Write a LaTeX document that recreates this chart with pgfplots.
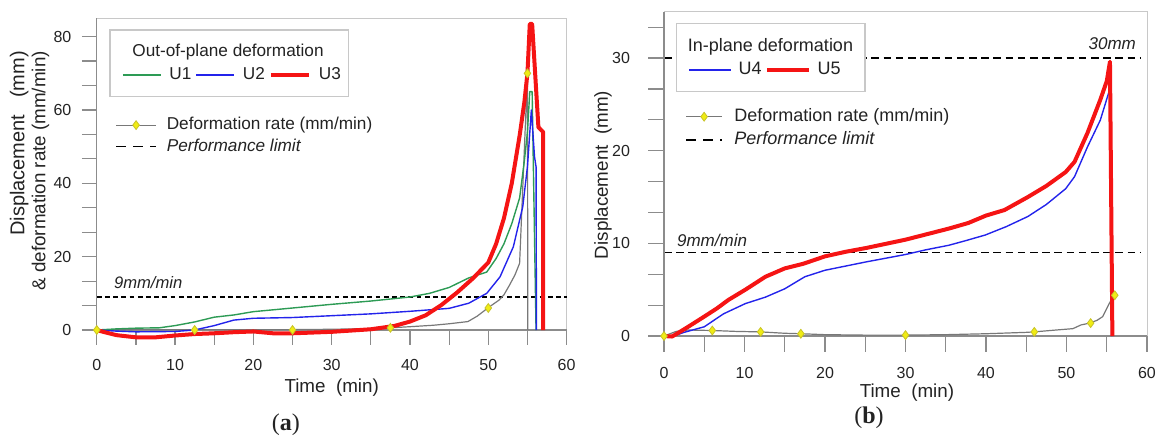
\documentclass[border=0pt]{standalone}
\usepackage{pgfplots}
\pgfplotsset{compat=1.18}
\usepackage{fontspec}
\setmainfont{Liberation Sans}
\newfontfamily\seriffont{Liberation Serif}
\definecolor{cgreen}{RGB}{45,155,85}
\definecolor{cblue}{RGB}{35,35,235}
\definecolor{cred}{RGB}{245,20,20}
\definecolor{cgray}{RGB}{120,120,120}
\definecolor{cyel}{RGB}{240,236,20}
\definecolor{cyeld}{RGB}{200,195,40}
\definecolor{cframe}{RGB}{200,200,200}
\definecolor{caxis}{RGB}{140,140,140}
\definecolor{ctext}{RGB}{35,35,35}

\pgfplotsset{
  panel/.style={
    scale only axis, anchor=south west,
    xmin=0, xmax=60,
    xtick={0,5,...,60}, xticklabels={0,,10,,20,,30,,40,,50,,60},
    tick pos=left,
    xtick align=inside, ytick align=outside,
    axis line style={cframe, line width=0.5pt},
    tick style={draw=caxis, line width=0.6pt},
    ticklabel style={font=\fontsize{8}{9.6}\selectfont, text=ctext},
    label style={font=\fontsize{9.4}{10.5}\selectfont, text=ctext},
    clip=false,
  },
  dmark/.style={only marks, mark=diamond*, mark size=2.2pt,
    mark options={fill=cyel, draw=cyeld, line width=0.4pt, solid}},
}

\begin{document}
\begin{tikzpicture}
\path[use as bounding box] (0,0) rectangle (582pt,219.5pt);

% ================= (a) =================
\begin{axis}[panel, at={(48.4pt,47pt)}, width=234.9pt, height=163.35pt,
  ymin=-4.09, ymax=85,
  ytick={0,6.6667,13.3333,20,26.6667,33.3333,40,46.6667,53.3333,60,66.6667,73.3333,80},
  yticklabels={0,,,20,,,40,,,60,,,80},
  major tick length=7.5pt,
  xticklabel style={yshift=-3.4pt}, yticklabel style={xshift=-1.7pt},
  xlabel={Time~~(min)},
  xlabel style={at={(axis description cs:0.5,0)}, anchor=center, yshift=-21.5pt},
  ylabel={{\fontsize{10}{10.5}\selectfont Displacement~~~(mm)}\\\& deformation rate (mm/min)},
  ylabel style={at={(axis description cs:-0.143,0.533)}, anchor=center, align=right},
  legend columns=3,
  legend image code/.code={\draw[#1] (0pt,0pt) -- (19pt,0pt);},
  legend style={at={(axis description cs:0.053,0.8265)}, anchor=west, draw=none, fill=none, inner sep=0pt,
     nodes={inner sep=0pt, font=\fontsize{8.6}{10}\selectfont, text=ctext},
     /tikz/every odd column/.append style={column sep=4pt},
     /tikz/every even column/.append style={column sep=2pt}},
]
\draw[white, line width=0.7pt] (rel axis cs:0,0) -- (rel axis cs:1,0);
\pgfplotsinvokeforeach{0,5,...,60}{\draw[caxis, line width=0.6pt] (axis cs:#1,0) -- (axis cs:#1,-4.09);}
\pgfplotsinvokeforeach{0,6.6667,13.3333,20,26.6667,33.3333,40,46.6667,53.3333,60,66.6667,73.3333,80}{\draw[caxis, line width=0.6pt] (axis cs:0,#1) -- ([xshift=-7.5pt]axis cs:0,#1);}
\addplot[caxis, line width=0.6pt, forget plot] coordinates {(0,0) (60,0)};
\addplot[black, line width=0.7pt, dash pattern=on 2.4pt off 1.7pt, forget plot] coordinates {(0,9) (60,9)};
\addplot[cgray, line width=0.6pt, forget plot] coordinates {
 (0,0) (5,0.1) (10,0.1) (15,0.1) (20,0.1) (25,0.1) (30,0.2) (35,0.4) (37.5,0.6) (40,0.9) (43,1.3) (45,1.7)
 (47.4,2.3) (48.6,3.8) (50,6.1) (51.4,8.2) (52.0,9.6) (52.7,12.2) (53.4,15) (54.0,18.2) (55.0,69.5) (55.05,0)};
\addplot[cgreen, line width=0.7pt, line join=round] coordinates {
 (0,0) (2.5,0.3) (5,0.5) (8,0.6) (10,1.2) (12.5,2.2) (15,3.5) (17.5,4.1) (20,5.0) (25,6.0) (30,7.0) (35,7.9)
 (40,9.0) (42.5,10.0) (45,11.6) (47.5,14.2) (49.8,15.8) (51,19.5) (52,23.5) (53,29) (54,36) (54.6,46) (55,54)
 (55.3,65) (55.6,65) (56.1,0)};
\addlegendentry{U1}
\addplot[cblue, line width=0.7pt, line join=round] coordinates {
 (0,0) (2.5,-0.3) (5,-0.5) (10,-0.4) (12.5,0) (15,1.2) (17.5,2.7) (20,3.2) (25,3.4) (30,3.9) (35,4.4) (40,5.1)
 (45,5.9) (47.5,7.3) (49.8,10) (51.5,14.5) (53.2,22.7) (54.4,33.6) (55,44.5) (55.5,60) (55.9,47.3) (56.1,44.5) (56.15,0)};
\addlegendentry{U2}
\addplot[cred, line width=2pt, line join=round] coordinates {
 (0,0) (1,-0.6) (2.5,-1.4) (5,-2) (7.5,-2) (10,-1.5) (12.5,-1.1) (15,-0.9) (17.5,-0.6) (20,-0.4) (22.5,-0.9)
 (25,-0.9) (27.5,-0.7) (30,-0.5) (35,0.2) (38,1.1) (40,2.3) (42,4) (44,6.8) (46,10.2) (48,14) (50,18.4)
 (51,23.5) (52,30.5) (53,40) (54,53) (54.6,62) (55,70) (55.3,83.5) (55.6,83.5) (56.4,55.3) (57,54) (57,0)};
\addlegendentry{U3}
\addplot[dmark, forget plot] coordinates {(0,0) (12.5,0) (25,0) (37.5,0.6) (50,6) (55,70)};
\draw[caxis, line width=0.6pt] (rel axis cs:0,0) -- (rel axis cs:0,1);
\draw[cframe, line width=0.6pt, fill=white] (axis description cs:0.0281,0.760) rectangle (axis description cs:0.5353,0.9642);
\node[font=\fontsize{8.6}{10}\selectfont, text=ctext] at (axis description cs:0.2793,0.896) {Out-of-plane deformation};
\node[anchor=base west, font=\fontsize{8.3}{10}\selectfont\itshape, text=ctext] at (axis cs:1.3,11.45) {9mm/min};
\node[font=\fontsize{12}{14}\seriffont, text=ctext] at (axis description cs:0.4027,-0.2449) {(\textbf{a})};
\end{axis}

\begin{axis}[panel, hide axis, at={(48.4pt,47pt)}, width=234.9pt, height=163.35pt,
  ymin=-4.09, ymax=85, legend cell align=left,
  legend image code/.code={\draw[mark repeat=2,mark phase=2,#1] plot coordinates {(0pt,0pt) (10pt,0pt) (20pt,0pt)};},
  legend style={at={(axis description cs:0.0387,0.640)}, anchor=west, draw=none, fill=none, inner sep=0pt, row sep=2.3pt,
     nodes={inner sep=0pt, text height=6.5pt, text depth=2pt, font=\fontsize{8.6}{10}\selectfont, text=ctext},
     /tikz/every odd column/.append style={column sep=5pt}},
]
\addlegendimage{cgray, line width=0.6pt, mark=diamond*, mark size=2.2pt, mark options={fill=cyel, draw=cyeld, line width=0.4pt, solid}}
\addlegendentry{Deformation rate (mm/min)}
\addlegendimage{black, line width=0.7pt, dash pattern=on 5pt off 3.5pt}
\addlegendentry{\itshape Performance limit}
\end{axis}

% ================= (b) =================
\begin{axis}[panel, at={(332pt,43.5pt)}, width=241.5pt, height=170.15pt,
  ymin=-1.72, ymax=35,
  ytick={0,3.3333,6.6667,10,13.3333,16.6667,20,23.3333,26.6667,30,33.3333},
  yticklabels={0,,,10,,,20,,,30,},
  major tick length=8pt,
  xticklabel style={yshift=-3.9pt}, yticklabel style={xshift=-5.5pt},
  xlabel={Time~~(min)},
  xlabel style={at={(axis description cs:0.503,0)}, anchor=center, yshift=-20.5pt},
  ylabel={Displacement~~(mm)},
  ylabel style={at={(axis description cs:-0.1263,0.520)}, anchor=center},
  legend columns=2,
  legend image code/.code={\draw[#1] (0pt,0pt) -- (21pt,0pt);},
  legend style={at={(axis description cs:0.0503,0.8287)}, anchor=west, draw=none, fill=none, inner sep=0pt,
     nodes={inner sep=0pt, font=\fontsize{9}{10.5}\selectfont, text=ctext},
     /tikz/every odd column/.append style={column sep=3.3pt},
     /tikz/every even column/.append style={column sep=1.7pt}},
]
\draw[white, line width=0.7pt] (rel axis cs:0,0) -- (rel axis cs:1,0);
\pgfplotsinvokeforeach{0,5,...,60}{\draw[caxis, line width=0.6pt] (axis cs:#1,0) -- (axis cs:#1,-1.72);}
\pgfplotsinvokeforeach{0,3.3333,6.6667,10,13.3333,16.6667,20,23.3333,26.6667,30,33.3333}{\draw[caxis, line width=0.6pt] (axis cs:0,#1) -- ([xshift=-8pt]axis cs:0,#1);}
\addplot[caxis, line width=0.6pt, forget plot] coordinates {(0,0) (60,0)};
\addplot[black, line width=0.7pt, dash pattern=on 3.8pt off 2.3pt, forget plot] coordinates {(0,9) (59.3,9)};
\addplot[black, line width=0.7pt, dash pattern=on 3.8pt off 2.3pt, forget plot] coordinates {(0,30) (59.3,30)};
\addplot[cgray, line width=0.6pt, forget plot] coordinates {
 (0,0) (1.5,0.5) (3,0.65) (6,0.6) (9,0.5) (12,0.45) (15,0.3) (17,0.25) (20,0.15) (25,0.1) (30,0.1) (35,0.15)
 (40,0.25) (45,0.4) (46,0.45) (48,0.6) (50.8,0.8) (51.8,1.2) (52.9,1.4) (53.8,1.7) (54.5,2.1) (55.3,3.5) (55.9,4.4)};
\addplot[cblue, line width=0.7pt, line join=round] coordinates {
 (0,0) (1,-0.05) (2.5,0.4) (5,1.0) (7.4,2.4) (10.1,3.5) (12.6,4.2) (15,5.1) (17.5,6.4) (20,7.1) (25.1,8.0)
 (30,8.8) (32.5,9.3) (35.4,9.8) (37.5,10.3) (39.9,10.9) (42.5,11.8) (45.2,12.9) (47.5,14.2) (49.9,15.9)
 (51,17.2) (52.6,20.4) (54.2,23.3) (55.4,26.7) (55.6,0)};
\addlegendentry{U4}
\addplot[cred, line width=2pt, line join=round] coordinates {
 (0,0) (1,-0.05) (1.5,0.2) (3,1.0) (5,2.1) (6.6,3.0) (8,3.9) (10.1,5.0) (12.6,6.4) (15,7.3) (17.3,7.8) (20,8.6)
 (22.6,9.1) (25.1,9.5) (30,10.4) (35.4,11.6) (37.8,12.2) (40,13.0) (42.3,13.6) (45.2,15.0) (47.5,16.2)
 (49.9,17.7) (51,18.8) (52.6,21.9) (54.2,25.5) (55,27.5) (55.4,29.6) (55.7,0)};
\addlegendentry{U5}
\addplot[dmark, forget plot] coordinates {(0,0) (6,0.6) (12,0.45) (17,0.25) (30,0.1) (46,0.45) (53,1.4) (56,4.4)};
\draw[caxis, line width=0.6pt] (rel axis cs:0,0) -- (rel axis cs:0,1);
\draw[cframe, line width=0.6pt, fill=white] (axis description cs:0.0263,0.765) rectangle (axis description cs:0.416,0.966);
\node[font=\fontsize{9}{10.5}\selectfont, text=ctext] at (axis description cs:0.2205,0.897) {In-plane deformation};
\node[anchor=base west, font=\fontsize{8.5}{10}\selectfont\itshape, text=ctext] at (axis cs:0.75,9.67) {9mm/min};
\node[anchor=base east, font=\fontsize{8.5}{10}\selectfont\itshape, text=ctext] at (axis cs:59.5,30.9) {30mm};
\node[font=\fontsize{12}{14}\seriffont, text=ctext] at (axis description cs:0.4244,-0.194) {(\textbf{b})};
\end{axis}

\begin{axis}[panel, hide axis, at={(332pt,43.5pt)}, width=241.5pt, height=170.15pt,
  ymin=-1.72, ymax=35, legend cell align=left,
  legend image code/.code={\draw[mark repeat=2,mark phase=2,#1] plot coordinates {(0pt,0pt) (9pt,0pt) (18pt,0pt)};},
  legend style={at={(axis description cs:0.0435,0.657)}, anchor=west, draw=none, fill=none, inner sep=0pt, row sep=3pt,
     nodes={inner sep=0pt, text height=6.7pt, text depth=2pt, font=\fontsize{9}{10.5}\selectfont, text=ctext},
     /tikz/every odd column/.append style={column sep=5.8pt}},
]
\addlegendimage{cgray, line width=0.6pt, mark=diamond*, mark size=2.2pt, mark options={fill=cyel, draw=cyeld, line width=0.4pt, solid}}
\addlegendentry{Deformation rate (mm/min)}
\addlegendimage{black, line width=0.7pt, dash pattern=on 5pt off 3.5pt}
\addlegendentry{\itshape Performance limit}
\end{axis}
\end{tikzpicture}
\end{document}
